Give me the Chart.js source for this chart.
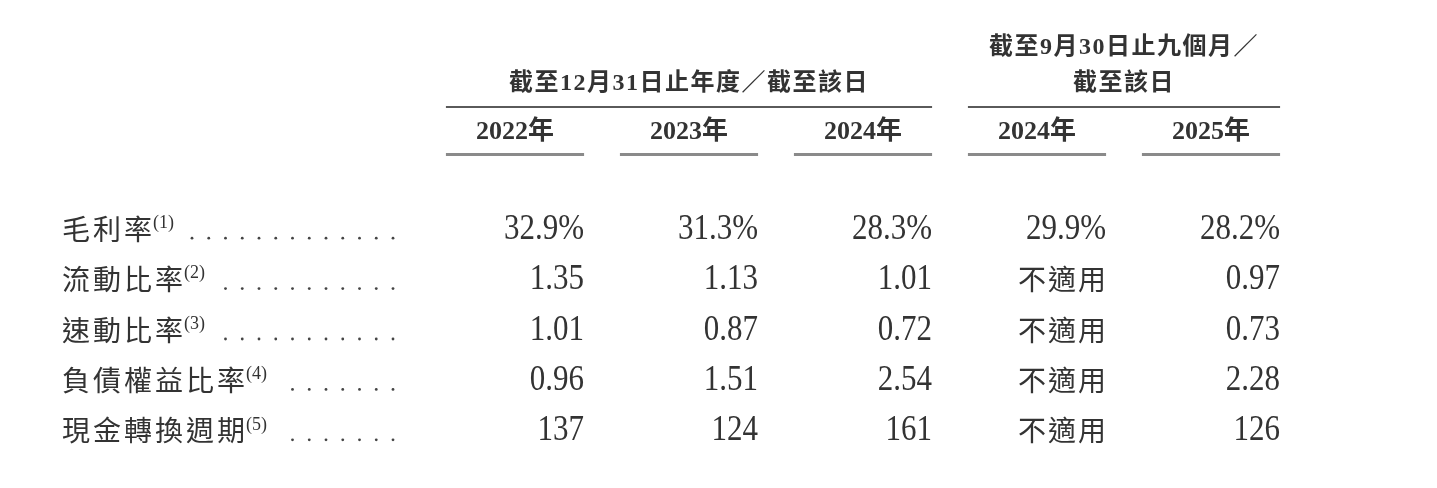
<!DOCTYPE html>
<html>
<head>
<meta charset="utf-8">
<script src="https://cdn.jsdelivr.net/npm/chart.js@4.4.1/dist/chart.umd.min.js"></script>
<style>
html,body{margin:0;padding:0;background:#fff;}
#wrap{position:relative;width:1437px;height:488px;}
</style>
</head>
<body>
<div id="wrap"><canvas id="c"></canvas></div>
<script>
// ---- data ----
const columnKeys = ['FY2022', 'FY2023', 'FY2024', '9M2024', '9M2025'];
const columnLabels = ['2022年', '2023年', '2024年', '2024年', '2025年'];
const groupLabels = [['截至12月31日止年度／截至該日'], ['截至9月30日止九個月／', '截至該日']];
const groupStart = [0, 3];
const groupEnd = [2, 4];
const rowLabels = ['毛利率', '流動比率', '速動比率', '負債權益比率', '現金轉換週期'];
const rowNotes = ['(1)', '(2)', '(3)', '(4)', '(5)'];
const grossMargin = [32.9, 31.3, 28.3, 29.9, 28.2];
const currentRatio = [1.35, 1.13, 1.01, null, 0.97];
const quickRatio = [1.01, 0.87, 0.72, null, 0.73];
const debtToEquity = [0.96, 1.51, 2.54, null, 2.28];
const cashConversionCycle = [137, 124, 161, null, 126];
const notApplicable = '不適用';

const rowValues = [grossMargin, currentRatio, quickRatio, debtToEquity, cashConversionCycle];
const rowFormats = [
  v => v.toFixed(1) + '%',
  v => v.toFixed(2),
  v => v.toFixed(2),
  v => v.toFixed(2),
  v => String(v)
];

const TEXT = '#333333';
const SERIF = '"Liberation Serif", "Noto Sans CJK TC", serif';
const CJK = '"Noto Sans CJK TC", "Liberation Serif", sans-serif';

const tablePlugin = {
  id: 'tablePlugin',
  afterDatasetsDraw(chart) {
    const ctx = chart.ctx;
    const xs = chart.scales.x;
    const ys = chart.scales.y;
    const band = xs.getPixelForValue(1) - xs.getPixelForValue(0);
    const half = band * 0.397;
    ctx.save();
    ctx.fillStyle = TEXT;

    // group headers
    ctx.textAlign = 'center';
    ctx.textBaseline = 'middle';
    ctx.font = 'bold 24px ' + SERIF;
    ctx.letterSpacing = '1.5px';
    groupLabels.forEach((lines, g) => {
      const l = xs.getPixelForValue(groupStart[g]) - half;
      const r = xs.getPixelForValue(groupEnd[g]) + half;
      const cx = (l + r) / 2;
      const n = lines.length;
      lines.forEach((t, k) => {
        const y = 84 - (n - 1 - k) * 36;
        ctx.fillText(t, cx, y);
      });
      ctx.fillStyle = '#5a5a5a';
      ctx.fillRect(l, 106, r - l, 2);
      ctx.fillStyle = TEXT;
    });

    // column headers
    ctx.font = 'bold 26px ' + SERIF;
    ctx.letterSpacing = '0px';
    columnLabels.forEach((t, i) => {
      const cx = xs.getPixelForValue(i);
      ctx.fillStyle = TEXT;
      ctx.fillText(t, cx, 132);
      ctx.fillStyle = '#8a8a8a';
      ctx.fillRect(cx - half, 153, half * 2, 3);
    });
    ctx.fillStyle = TEXT;

    // row labels, notes, leaders
    rowLabels.forEach((lab, r) => {
      const y = ys.getPixelForValue(r);
      ctx.textAlign = 'left';
      ctx.textBaseline = 'middle';
      ctx.font = '400 28px ' + CJK;
      ctx.letterSpacing = '3px';
      ctx.fillText(lab, 62, y);
      let end = 62 + ctx.measureText(lab).width - 2;
      ctx.letterSpacing = '0px';
      ctx.font = '18px ' + SERIF;
      ctx.textBaseline = 'top';
      ctx.fillText(rowNotes[r], end, y - 15);
      end += ctx.measureText(rowNotes[r]).width;
      ctx.fillStyle = '#444';
      for (let x = 393; x > end + 10; x -= 16.75) {
        ctx.beginPath();
        ctx.arc(x, y + 9, 1.4, 0, Math.PI * 2);
        ctx.fill();
      }
      ctx.fillStyle = TEXT;
    });

    // cell values from dataset elements
    chart.data.datasets.forEach((ds, r) => {
      const meta = chart.getDatasetMeta(r);
      meta.data.forEach((el, i) => {
        const v = ds.data[i].v;
        const xr = el.x + half;
        ctx.textAlign = 'right';
        ctx.textBaseline = 'middle';
        if (v === null) {
          ctx.font = '400 28px ' + CJK;
          ctx.letterSpacing = '2px';
          ctx.fillText(notApplicable, xr + 2, el.y);
        } else {
          ctx.font = '31px ' + SERIF;
          ctx.letterSpacing = '0px';
          ctx.save();
          ctx.translate(xr, el.y);
          ctx.scale(1, 1.18);
          ctx.fillText(rowFormats[r](v), 0, 0);
          ctx.restore();
        }
      });
    });
    ctx.restore();
  }
};

new Chart(document.getElementById('c'), {
  type: 'scatter',
  data: {
    datasets: rowLabels.map((lab, r) => ({
      label: lab,
      data: columnKeys.map((k, i) => ({ x: k, y: lab, v: rowValues[r][i] })),
      pointRadius: 0,
      pointHoverRadius: 0
    }))
  },
  options: {
    responsive: true,
    maintainAspectRatio: false,
    animation: false,
    events: [],
    layout: { padding: { left: 428, right: 139, top: 204, bottom: 32 } },
    plugins: { legend: { display: false }, tooltip: { enabled: false } },
    scales: {
      x: { type: 'category', labels: columnKeys, offset: true, display: false },
      y: { type: 'category', labels: rowLabels, offset: true, display: false }
    }
  },
  plugins: [tablePlugin]
});
</script>
</body>
</html>
